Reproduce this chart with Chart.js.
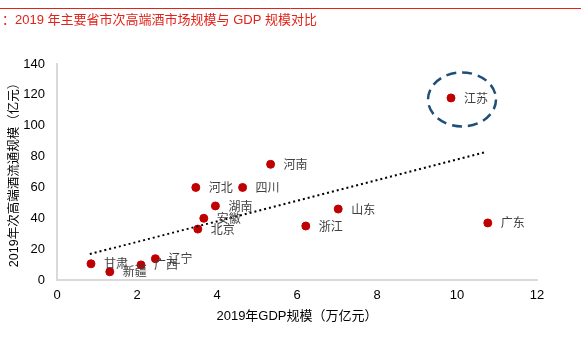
<!DOCTYPE html>
<html>
<head>
<meta charset="utf-8">
<script src="https://cdn.jsdelivr.net/npm/chart.js@4/dist/chart.umd.min.js"></script>
<style>
html,body{margin:0;padding:0;background:#fff;}
#wrap{position:relative;width:581px;height:362px;}
canvas{display:block;}
</style>
</head>
<body>
<div id="wrap"><canvas id="c" width="581" height="362"></canvas></div>
<script>
const provinces = ['江苏','广东','河南','河北','四川','湖南','安徽','北京','山东','浙江','甘肃','新疆','广西','辽宁'];
const gdp =       [9.85, 10.77, 5.34, 3.47, 4.64, 3.96, 3.67, 3.52, 7.03, 6.22, 0.85, 1.32, 2.10, 2.46];
const market =    [118,  37,    75,   60,   60,   48,   40,   33,   46,   35,   10.5, 5.3,  9.8,  13.8];
const trendX = [0.82, 10.69];
const trendY = [16.8, 82.7];
const xTicks = [0,2,4,6,8,10,12];
const yTicks = [0,20,40,60,80,100,120,140];
const titleText = '：2019 年主要省市次高端酒市场规模与 GDP 规模对比';
const xTitle = '2019年GDP规模（万亿元）';
const yTitle = '2019年次高端酒流通规模（亿元）';
const highlight = '江苏';

const CJK = '"Liberation Sans", "Noto Sans CJK SC", sans-serif';

const extras = {
  id: 'extras',
  afterDraw(chart) {
    const ctx = chart.ctx;
    const xs = chart.scales.x, ys = chart.scales.y;
    ctx.save();
    // header line and title
    ctx.strokeStyle = '#e2231a';
    ctx.lineWidth = 1;
    ctx.beginPath(); ctx.moveTo(0, 8.5); ctx.lineTo(581, 8.5); ctx.stroke();
    ctx.fillStyle = '#e2231a';
    ctx.font = '13px ' + CJK;
    ctx.textBaseline = 'middle';
    ctx.textAlign = 'left';
    ctx.fillText(titleText, 2, 20);
    // point labels
    ctx.fillStyle = '#404040';
    ctx.font = '12px "Noto Sans CJK SC", sans-serif';
    provinces.forEach((p, i) => {
      const px = xs.getPixelForValue(gdp[i]);
      const py = ys.getPixelForValue(market[i]);
      ctx.fillText(p, px + 13, py);
    });
    // highlight ellipse
    const hi = provinces.indexOf(highlight);
    const cx = xs.getPixelForValue(gdp[hi]) + 11;
    const cy = ys.getPixelForValue(market[hi]) + 1.5;
    ctx.strokeStyle = '#1f4e79';
    ctx.lineWidth = 2.5;
    ctx.setLineDash([10, 6]);
    ctx.beginPath();
    ctx.ellipse(cx, cy, 34, 27, 0, 0, Math.PI * 2);
    ctx.stroke();
    ctx.restore();
  }
};

new Chart(document.getElementById('c'), {
  type: 'scatter',
  data: {
    datasets: [
      {
        label: 'trend',
        type: 'line',
        data: trendX.map((x, i) => ({x, y: trendY[i]})),
        borderColor: '#000',
        borderWidth: 2,
        borderDash: [2, 3],
        pointRadius: 0,
        fill: false
      },
      {
        label: 'provinces',
        data: gdp.map((x, i) => ({x, y: market[i]})),
        backgroundColor: '#c00000',
        borderColor: '#c00000',
        pointRadius: 4,
        pointHoverRadius: 4
      }
    ]
  },
  options: {
    responsive: false,
    animation: false,
    events: [],
    layout: { padding: { left: 0, top: 64, right: 44, bottom: 38 } },
    plugins: { legend: { display: false }, tooltip: { enabled: false } },
    scales: {
      x: {
        type: 'linear', min: 0, max: 12,
        afterBuildTicks: s => { s.ticks = xTicks.map(v => ({value: v})); },
        grid: { display: false, drawTicks: false },
        border: { display: true, color: '#d9d9d9', width: 2 },
        ticks: { color: '#000', font: { family: 'Liberation Sans', size: 13 }, padding: 8 },
        title: { display: true, text: xTitle, color: '#000', font: { family: CJK, size: 13 }, padding: { top: 4, bottom: 0 } },
        afterFit: s => { s.height = 44; }
      },
      y: {
        type: 'linear', min: 0, max: 140,
        afterBuildTicks: s => { s.ticks = yTicks.map(v => ({value: v})); },
        grid: { display: false, drawTicks: false },
        border: { display: true, color: '#d9d9d9', width: 2 },
        ticks: { color: '#000', font: { family: 'Liberation Sans', size: 13 }, padding: 12 },
        title: { display: true, text: yTitle, color: '#000', font: { family: CJK, size: 12.5 }, padding: { top: 7, bottom: 4 } },
        afterFit: s => { s.width = 57; }
      }
    }
  },
  plugins: [extras]
});
</script>
</body>
</html>
